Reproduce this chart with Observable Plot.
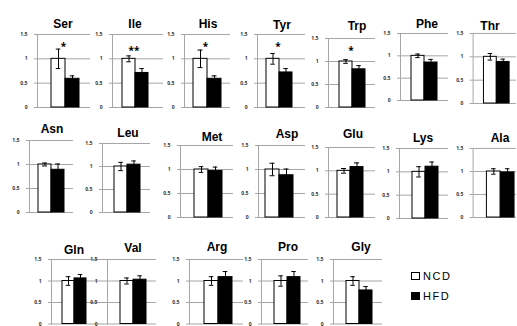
<!DOCTYPE html>
<html><head><meta charset="utf-8">
<script src="https://cdn.jsdelivr.net/npm/d3@7"></script>
<script src="https://cdn.jsdelivr.net/npm/@observablehq/plot@0.6"></script>
<style>
html,body{margin:0;padding:0;background:#fff;}
#chart{position:relative;width:517px;height:326px;overflow:hidden;font-family:"Liberation Sans",Arial,sans-serif;}
.panel{position:absolute;}
.panel svg{overflow:visible;background:transparent;}
.title{position:absolute;font-weight:bold;font-size:12px;transform:translate(-50%,-50%);white-space:nowrap;color:#000;}
.legend{position:absolute;left:411px;top:266px;font-size:11px;letter-spacing:1.6px;color:#000;}
.legend div{display:flex;align-items:center;height:20px;}
.sw{display:inline-block;width:7px;height:6px;border:1px solid #000;margin-right:3px;}
</style></head><body><div id="chart"></div><script>
// ---- data ----
const aminoAcids = ["Ser","Ile","His","Tyr","Trp","Phe","Thr","Asn","Leu","Met","Asp","Glu","Lys","Ala","Gln","Val","Arg","Pro","Gly"];
const groups = ["NCD","HFD"];
const ncdMean = [1,1,1,1,1,1,1,1,1,1,1,1,1,1,1,1,1,1,1];
const ncdErr  = [0.20,0.06,0.18,0.11,0.04,0.04,0.07,0.03,0.09,0.06,0.13,0.05,0.11,0.06,0.10,0.07,0.10,0.12,0.10];
const hfdMean = [0.59,0.71,0.59,0.72,0.83,0.85,0.89,0.89,1.04,0.97,0.88,1.08,1.11,0.98,1.06,1.03,1.09,1.09,0.78];
const hfdErr  = [0.06,0.09,0.06,0.08,0.08,0.07,0.06,0.12,0.08,0.08,0.13,0.09,0.10,0.08,0.09,0.09,0.13,0.13,0.09];
const stars   = ["*","**","*","*","*","","","","","","","","","","","","","",""];
const starY   = [1.31,1.22,1.31,1.31,1.30,0,0,0,0,0,0,0,0,0,0,0,0,0,0];
const yTicks = [0,0.5,1,1.5];
const yTickLabels = ["0","0.5","1","1.5"];

// ---- layout (pixel geometry of each small panel) ----
// [axisX, gridEndX, yTop(1.5), yZero, whiteBarLeft, barWidth, titleX, titleY]
const layout = [
  [37, 90, 34,107, 50,14.5, 63,24],
  [112,163,34,107,121,13.5,135,24],
  [184,230,34,107,193,14,208,24],
  [257,305,34,107,265,13.5,282,25],
  [328,375,38,107,338,13.5,357,26],
  [400,448,33,100,410,13.5,427,24],
  [473,517,33,104,483,13.5,490,26],
  [29, 73,140,212, 38,13,52,129],
  [102,150,143,212,113,13.5,128,133],
  [180,233,145,217,193,14.5,212,137],
  [258,305,145,217,265,14,287,134],
  [328,375,147,217,337,13,353,134],
  [399,448,148,218,411,13.5,423,138],
  [473,517,148,218,486,14.5,500,138],
  [51,104,259,323.5, 61,12.5,74,250],
  [107,156,259,323.5,119,13.5,133,248],
  [189,243,259,323.5,203,14.5,217,247],
  [261,308,259,323.5,273,13.5,288,247],
  [333,382,259,323.5,345,13.5,361,247]
];

const chart = document.getElementById("chart");
const GRID = "#a6a6a6";

aminoAcids.forEach((aa, i) => {
  const [ax, gx, yt, y0, bx, bw, tx, ty] = layout[i];
  const ML = 30, MT = 2, MB = 6, MR = 1;
  const left = ax - ML, top = yt - MT;
  const width = ML + (gx - ax) + MR;
  const height = MT + (y0 - yt) + MB;
  const rows = [
    {group: "NCD", mean: ncdMean[i], err: ncdErr[i]},
    {group: "HFD", mean: hfdMean[i], err: hfdErr[i]}
  ];
  const starRows = stars[i] ? [{group: "NCD", y: starY[i], s: stars[i]}] : [];
  const plot = Plot.plot({
    width, height,
    marginLeft: ML, marginRight: MR, marginTop: MT, marginBottom: MB,
    x: {type: "band", domain: groups, range: [bx - left, bx + 2 * bw - left], padding: 0, axis: null},
    y: {domain: [0, 1.5], axis: null},
    color: {domain: groups, range: ["white", "black"]},
    marks: [
      Plot.gridY(yTicks, {stroke: GRID, strokeOpacity: 1, strokeWidth: 1}),
      Plot.axisY(yTicks, {tickSize: 3, tickPadding: 7, stroke: GRID, fill: "#333", fontSize: 5, fontWeight: "bold",
        tickFormat: d => yTickLabels[yTicks.indexOf(d)]}),
      Plot.frame({anchor: "left", stroke: GRID}),
      Plot.barY(rows, {x: "group", y: "mean", fill: "group", stroke: "black", strokeWidth: 1}),
      Plot.ruleX(rows, {x: "group", y1: d => d.mean - d.err, y2: d => d.mean + d.err, stroke: "black", strokeWidth: 1}),
      Plot.tickY(rows, {x: "group", y: d => d.mean + d.err, stroke: "black", insetLeft: bw / 2 - 2.5, insetRight: bw / 2 - 2.5}),
      Plot.tickY(rows, {x: "group", y: d => d.mean - d.err, stroke: "black", insetLeft: bw / 2 - 2.5, insetRight: bw / 2 - 2.5}),
      Plot.text(starRows, {x: "group", y: "y", text: "s", dx: 5, dy: 3, fontSize: 10, fontWeight: "bold", fill: "black"})
    ]
  });
  const wrap = document.createElement("div");
  wrap.className = "panel";
  wrap.style.left = left + "px";
  wrap.style.top = top + "px";
  wrap.appendChild(plot);
  chart.appendChild(wrap);
  const t = document.createElement("div");
  t.className = "title";
  t.style.left = tx + "px";
  t.style.top = ty + "px";
  t.textContent = aa;
  chart.appendChild(t);
});

const legend = document.createElement("div");
legend.className = "legend";
legend.innerHTML = groups.map((g, k) =>
  `<div><span class="sw" style="background:${k ? "#000" : "#fff"}"></span>${g}</div>`).join("");
chart.appendChild(legend);
</script></body></html>
